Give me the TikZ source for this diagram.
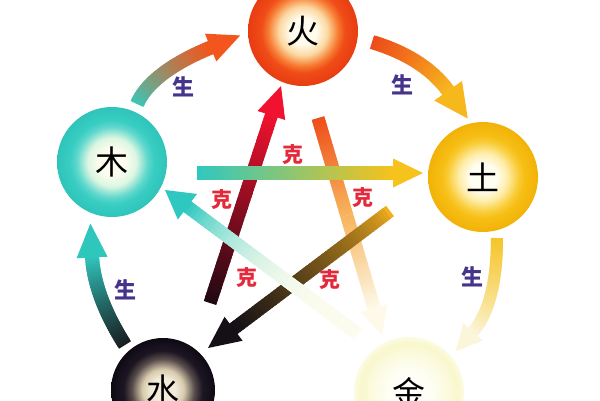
\documentclass[tikz,border=0pt]{standalone}
\usepackage{fontspec}
\newfontfamily\cjk{Noto Sans CJK SC}
\usetikzlibrary{calc}

\definecolor{shengc}{HTML}{46348C}
\definecolor{kec}{HTML}{E42A3A}
% element circle colours
\definecolor{fA}{HTML}{FFFCEE}\definecolor{fB}{HTML}{FCD9A2}\definecolor{fC}{HTML}{F67A30}\definecolor{fD}{HTML}{F04C18}\definecolor{fE}{HTML}{E83C12}
\definecolor{wA}{HTML}{FCFDEE}\definecolor{wB}{HTML}{DDF6E2}\definecolor{wC}{HTML}{62D8CD}\definecolor{wD}{HTML}{3ACEC3}\definecolor{wE}{HTML}{2EC4B9}
\definecolor{eA}{HTML}{FFFEF2}\definecolor{eB}{HTML}{FEEDAA}\definecolor{eC}{HTML}{F9CC38}\definecolor{eD}{HTML}{F6BE14}\definecolor{eE}{HTML}{F2B208}
\definecolor{aA}{HTML}{F2EBD8}\definecolor{aB}{HTML}{D8CBAE}\definecolor{aC}{HTML}{5A4E4C}\definecolor{aD}{HTML}{1C1622}\definecolor{aE}{HTML}{0E0A14}
\definecolor{mA}{HTML}{FFFFFF}\definecolor{mB}{HTML}{FEFEF4}\definecolor{mC}{HTML}{FBFADC}\definecolor{mD}{HTML}{F8F7CC}\definecolor{mE}{HTML}{FBFBE2}
% arrow colours
\definecolor{tealS}{HTML}{3CC6B6}
\definecolor{redS}{HTML}{F2561C}
\definecolor{fireS}{HTML}{EE4A1A}
\definecolor{goldS}{HTML}{F7B81E}
\definecolor{goldT}{HTML}{F6C52C}
\definecolor{paleS}{HTML}{FBF5DA}
\definecolor{blackS}{HTML}{1A1E22}
\definecolor{tealT}{HTML}{2FC6BC}
\definecolor{maroonK}{HTML}{200812}
\definecolor{redK}{HTML}{F0122E}
\definecolor{tealK}{HTML}{2FC8C0}
\definecolor{goldK}{HTML}{F6C21C}
\definecolor{orangeK}{HTML}{F2AE1E}
\definecolor{blackK}{HTML}{141016}
\definecolor{fireK}{HTML}{EE4E1A}
\definecolor{lightK}{HTML}{F8B45C}
\definecolor{paleK}{HTML}{FDFAEA}
\definecolor{paleM}{HTML}{FDFCEE}

\pgfdeclareradialshading{firesh}{\pgfpoint{0bp}{0bp}}{color(0bp)=(fA); color(6bp)=(fA); color(11bp)=(fB); color(16bp)=(fC); color(19bp)=(fD); color(25bp)=(fE); color(50bp)=(fE)}
\pgfdeclareradialshading{woodsh}{\pgfpoint{0bp}{0bp}}{color(0bp)=(wA); color(6bp)=(wA); color(11bp)=(wB); color(16bp)=(wC); color(19bp)=(wD); color(25bp)=(wE); color(50bp)=(wE)}
\pgfdeclareradialshading{earthsh}{\pgfpoint{0bp}{0bp}}{color(0bp)=(eA); color(6bp)=(eA); color(11bp)=(eB); color(16bp)=(eC); color(19bp)=(eD); color(25bp)=(eE); color(50bp)=(eE)}
\pgfdeclareradialshading{watersh}{\pgfpoint{0bp}{0bp}}{color(0bp)=(aA); color(6bp)=(aA); color(10bp)=(aB); color(15bp)=(aC); color(19bp)=(aD); color(25bp)=(aE); color(50bp)=(aE)}
\pgfdeclareradialshading{metalsh}{\pgfpoint{0bp}{0bp}}{color(0bp)=(mA); color(10bp)=(mB); color(18bp)=(mC); color(22bp)=(mD); color(25bp)=(mE); color(50bp)=(mE)}

\newcommand\gam{1}
% straight gradient band from #1 to #2, colours #3 -> #4, width #5
\newcommand\gradline[5]{%
  \foreach \k in {0,...,49}{%
    \pgfmathsetmacro\qta{\k/50}%
    \pgfmathsetmacro\qtb{min((\k+1.7)/50,1)}%
    \pgfmathtruncatemacro\qpc{100*(1-(\k/49)^\gam)}%
    \draw[line width=#5, color=#3!\qpc!#4] ($(#1)!\qta!(#2)$) -- ($(#1)!\qtb!(#2)$);
  }}
% quadratic gradient band #1 (start) #2 (control) #3 (end)
\newcommand\gradcurve[6]{%
  \foreach \k in {0,...,49}{%
    \pgfmathsetmacro\qta{\k/50}%
    \pgfmathsetmacro\qtb{min((\k+1.7)/50,1)}%
    \pgfmathsetmacro\qfa{(1-\qta)^2}\pgfmathsetmacro\qfb{2*\qta*(1-\qta)}\pgfmathsetmacro\qfc{\qta^2}%
    \pgfmathsetmacro\qga{(1-\qtb)^2}\pgfmathsetmacro\qgb{2*\qtb*(1-\qtb)}\pgfmathsetmacro\qgc{\qtb^2}%
    \pgfmathtruncatemacro\qpc{100*(1-(\k/49)^\gam)}%
    \draw[line width=#6, color=#4!\qpc!#5] ($\qfa*(#1)+\qfb*(#2)+\qfc*(#3)$) -- ($\qga*(#1)+\qgb*(#2)+\qgc*(#3)$);
  }}
% straight arrow: tail #1, tip #2, colours #3 #4, width #5, head length #6, head half width #7
\newcommand\gradarrow[7]{%
  \coordinate (hb) at ($(#2)!#6!(#1)$);
  \coordinate (hs) at ($(#2)!#6-2pt!(#1)$);
  \gradline{#1}{hs}{#3}{#4}{#5}
  \fill[#4] (#2) -- ($(hb)!#7!90:(#2)$) -- ($(hb)!#7!-90:(#2)$) -- cycle;
}
% curved arrow: start #1, control #2, shaft end #3, colours #4 #5, width #6, head length #7, half width #8
\newcommand\gradcurvearrow[8]{%
  \coordinate (hb) at ($(#3)!1.5pt!(#2)$);
  \coordinate (ht) at ($(hb)!-#7!(#2)$);
  \gradcurve{#1}{#2}{#3}{#4}{#5}{#6}
  \fill[#5] (ht) -- ($(hb)!#8!90:(ht)$) -- ($(hb)!#8!-90:(ht)$) -- cycle;
}

\begin{document}
\begin{tikzpicture}[x=1pt,y=-1pt,
  elem/.style={circle, minimum size=110pt, inner sep=0pt, font=\cjk\fontsize{33}{33}\selectfont},
  sheng/.style={font=\cjk\bfseries\fontsize{22}{22}\selectfont, text=shengc, inner sep=0pt},
  ke/.style={font=\cjk\bfseries\fontsize{21}{21}\selectfont, text=kec, inner sep=0pt}]
\useasboundingbox[fill=white] (0,0) rectangle (600,400);

% element circles
\node[elem, shading=firesh]  (fire)  at (303,31)  {火};
\node[elem, shading=woodsh]  (wood)  at (112,162) {木};
\node[elem, shading=earthsh] (earth) at (483,177) {土};
\node[elem, shading=watersh, minimum size=104pt] (water) at (163,390) {水};
\node[elem, shading=metalsh] (metal) at (409,392) {金};

% connector end points
\coordinate (wf0) at ($(wood.center)+(25,-58)$);
\coordinate (wf1) at (151,72);
\coordinate (wf2) at ($(fire.center)+(-91,16)$);
\coordinate (fe0) at ($(fire.center)+(69,11)$);
\coordinate (fe1) at (425,58);
\coordinate (fe2) at ($(earth.center)+(-34,-85)$);
\coordinate (em0) at ($(earth.center)+(14,61)$);
\coordinate (em1) at (497,305);
\coordinate (em2) at ($(metal.center)+(63,-59)$);
\coordinate (aw0) at ($(water.center)+(-38,-45)$);
\coordinate (aw1) at (94,296);
\coordinate (aw2) at ($(wood.center)+(-20,94)$);

\coordinate (af0) at ($(water.center)+(47,-87)$);
\coordinate (af1) at ($(fire.center)+(-22,55)$);
\coordinate (we0) at ($(wood.center)+(85,11)$);
\coordinate (we1) at ($(earth.center)+(-60,-4)$);
\coordinate (ea0) at ($(earth.center)+(-93,34)$);
\coordinate (ea1) at ($(water.center)+(45,-42)$);
\coordinate (fm0) at ($(fire.center)+(15,87)$);
\coordinate (fm1) at ($(metal.center)+(-27,-57)$);
\coordinate (fmm) at ($(fm0)!0.45!(fm1)$);
\coordinate (mw0) at ($(metal.center)+(-51,-58)$);
\coordinate (mw1) at ($(wood.center)+(53,28)$);

% generating cycle (sheng)
\gradcurvearrow{wf0}{wf1}{wf2}{tealS}{redS}{14}{32pt}{15pt}
\gradcurvearrow{fe0}{fe1}{fe2}{fireS}{goldS}{14}{34pt}{17pt}
\gradcurvearrow{em0}{em1}{em2}{goldT}{paleS}{12}{26pt}{13pt}
\gradcurvearrow{aw0}{aw1}{aw2}{blackS}{tealT}{14}{34pt}{15.5pt}

% controlling cycle (ke)
\gradline{fm0}{fmm}{fireK}{lightK}{13}
\gradarrow{fmm}{fm1}{lightK}{paleK}{13}{28pt}{14pt}
\gradarrow{af0}{af1}{maroonK}{redK}{13}{31pt}{14.5pt}
\renewcommand\gam{0.7}
\gradarrow{ea0}{ea1}{orangeK}{blackK}{13}{32pt}{15pt}
\renewcommand\gam{1}
\gradarrow{we0}{we1}{tealK}{goldK}{14}{30pt}{14.5pt}
\renewcommand\gam{3.2}
\gradarrow{mw0}{mw1}{paleM}{tealK}{13}{28pt}{16pt}
\renewcommand\gam{1}

% labels
\node[sheng] (s1) at (183,87) {生};
\node[sheng] (s2) at (402,85) {生};
\node[sheng] (s3) at (472,277) {生};
\node[sheng] (s4) at (125,290) {生};
\node[ke] (k1) at (293,155) {克};
\node[ke] (k2) at (222,200) {克};
\node[ke] (k3) at (363,198) {克};
\node[ke] (k4) at (247,278) {克};
\node[ke] (k5) at (330,280) {克};
\end{tikzpicture}
\end{document}
